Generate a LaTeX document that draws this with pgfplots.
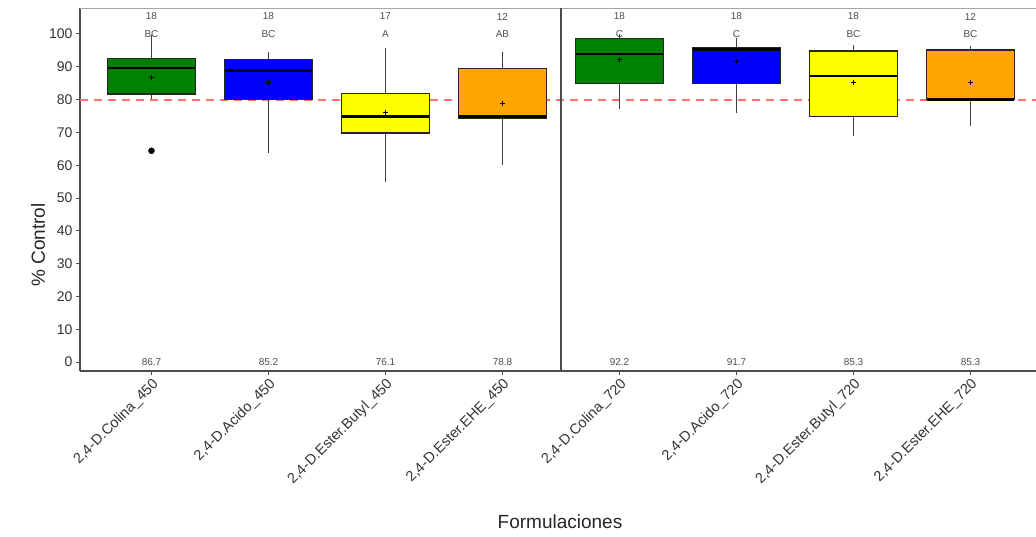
\documentclass[border=0pt]{standalone}
\usepackage{pgfplots}
\pgfplotsset{compat=1.18}
\usepgfplotslibrary{statistics}
\usepackage{fontspec}
\setmainfont{Liberation Sans}
\definecolor{cGreen}{HTML}{008000}
\definecolor{cBlue}{HTML}{0000FF}
\definecolor{cYellow}{HTML}{FFFF00}
\definecolor{cOrange}{HTML}{FFA500}
\definecolor{cRef}{HTML}{FF6E6E}
\definecolor{axgray}{HTML}{4D4D4D}
\definecolor{txgray}{HTML}{333333}
\begin{document}
\begin{tikzpicture}
\useasboundingbox (-80pt,-166pt) rectangle (956pt,371pt);
\begin{axis}[
  scale only axis, width=956pt, height=363pt,
  xmin=0.389, xmax=8.56, ymin=-2.7, ymax=107.9,
  axis x line*=bottom, axis y line*=left,
  axis line style={axgray, line width=1.2pt},
  tick align=outside, major tick length=4pt,
  tick style={axgray, line width=0.9pt},
  xtick={1,2,3,4,5,6,7,8},
  xticklabels={{2,4-D.Colina\_450}, {2,4-D.Acido\_450}, {2,4-D.Ester.Butyl\_450}, {2,4-D.Ester.EHE\_450}, {2,4-D.Colina\_720}, {2,4-D.Acido\_720}, {2,4-D.Ester.Butyl\_720}, {2,4-D.Ester.EHE\_720}},
  x tick label style={rotate=45, anchor=north east, font=\fontsize{14.5}{14.5}\selectfont, text=txgray, inner sep=1.5pt},
  ytick={0,10,...,100},
  y tick label style={font=\fontsize{14}{14}\selectfont, text=txgray},
  /pgf/number format/assume math mode=true,
  clip=false,
  boxplot/draw direction=y,
  boxplot/box extend=0.75,
  boxplot/whisker extend=0,
  boxplot/every median/.style={line width=2.4pt, black},
  boxplot/every whisker/.style={black!75, line width=1.1pt},
  boxplot/every box/.style={draw=black!85, line width=1.1pt},
  boxplot/every average/.style={/tikz/mark=+, /tikz/mark size=2.5pt, black},
]
\draw[black!35, line width=0.8pt] (rel axis cs:0,1) -- (rel axis cs:1,1);
\addplot[draw=cRef, color=cRef, line width=2pt, dash pattern=on 8pt off 6pt, mark=none] coordinates {(0.389,80) (8.56,80)};
\draw[black!70, line width=1.2pt] (axis cs:4.5,-2.7) -- (axis cs:4.5,107.9);

\addplot[boxplot prepared={draw position=1, median=89.6, upper quartile=92.5, lower quartile=81.7, upper whisker=99.7, lower whisker=80.1, average=86.7},
  fill=cGreen, draw=black, mark=*, mark size=3pt, mark options={fill=black, draw=black}] coordinates {(1,64.4)};
\addplot[boxplot prepared={draw position=2, median=88.8, upper quartile=92.1, lower quartile=80.0, upper whisker=94.6, lower whisker=63.8, average=85.2},
  fill=cBlue, draw=black] coordinates {};
\addplot[boxplot prepared={draw position=3, median=74.9, upper quartile=81.8, lower quartile=69.8, upper whisker=95.6, lower whisker=54.8, average=76.1},
  fill=cYellow, draw=black] coordinates {};
\addplot[boxplot prepared={draw position=4, median=74.9, upper quartile=89.6, lower quartile=74.1, upper whisker=94.6, lower whisker=60.1, average=78.8},
  fill=cOrange, draw=black] coordinates {};
\addplot[boxplot prepared={draw position=5, median=93.8, upper quartile=98.7, lower quartile=85.0, upper whisker=100, lower whisker=77.1, average=92.2},
  fill=cGreen, draw=black] coordinates {};
\addplot[boxplot prepared={draw position=6, median=95.2, upper quartile=95.8, lower quartile=85.0, upper whisker=98.7, lower whisker=76.0, average=91.7},
  fill=cBlue, draw=black] coordinates {};
\addplot[boxplot prepared={draw position=7, median=87.2, upper quartile=94.8, lower quartile=74.8, upper whisker=96.6, lower whisker=68.9, average=85.3},
  fill=cYellow, draw=black] coordinates {};
\addplot[boxplot prepared={draw position=8, median=80.0, upper quartile=95.1, lower quartile=80.0, upper whisker=96.4, lower whisker=72.0, average=85.3},
  fill=cOrange, draw=black] coordinates {};

\tikzset{smalltxt/.style={font=\fontsize{10}{10}\selectfont, text=axgray, inner sep=0pt}}
\node[smalltxt] at (axis cs:1,105.3) {18};
\node[smalltxt] at (axis cs:2,105.3) {18};
\node[smalltxt] at (axis cs:3,105.3) {17};
\node[smalltxt] at (axis cs:4,105.3) {12};
\node[smalltxt] at (axis cs:5,105.3) {18};
\node[smalltxt] at (axis cs:6,105.3) {18};
\node[smalltxt] at (axis cs:7,105.3) {18};
\node[smalltxt] at (axis cs:8,105.3) {12};
\node[smalltxt] at (axis cs:1,100) {BC};
\node[smalltxt] at (axis cs:2,100) {BC};
\node[smalltxt] at (axis cs:3,100) {A};
\node[smalltxt] at (axis cs:4,100) {AB};
\node[smalltxt] at (axis cs:5,100) {C};
\node[smalltxt] at (axis cs:6,100) {C};
\node[smalltxt] at (axis cs:7,100) {BC};
\node[smalltxt] at (axis cs:8,100) {BC};
\node[smalltxt] at (axis cs:1,0) {86.7};
\node[smalltxt] at (axis cs:2,0) {85.2};
\node[smalltxt] at (axis cs:3,0) {76.1};
\node[smalltxt] at (axis cs:4,0) {78.8};
\node[smalltxt] at (axis cs:5,0) {92.2};
\node[smalltxt] at (axis cs:6,0) {91.7};
\node[smalltxt] at (axis cs:7,0) {85.3};
\node[smalltxt] at (axis cs:8,0) {85.3};
\end{axis}
\node[font=\fontsize{19}{19}\selectfont, rotate=90, text=black!85] at (-42pt,126pt) {\% Control};
\node[font=\fontsize{19}{19}\selectfont, text=black!85] at (480pt,-151pt) {Formulaciones};
\end{tikzpicture}
\end{document}
